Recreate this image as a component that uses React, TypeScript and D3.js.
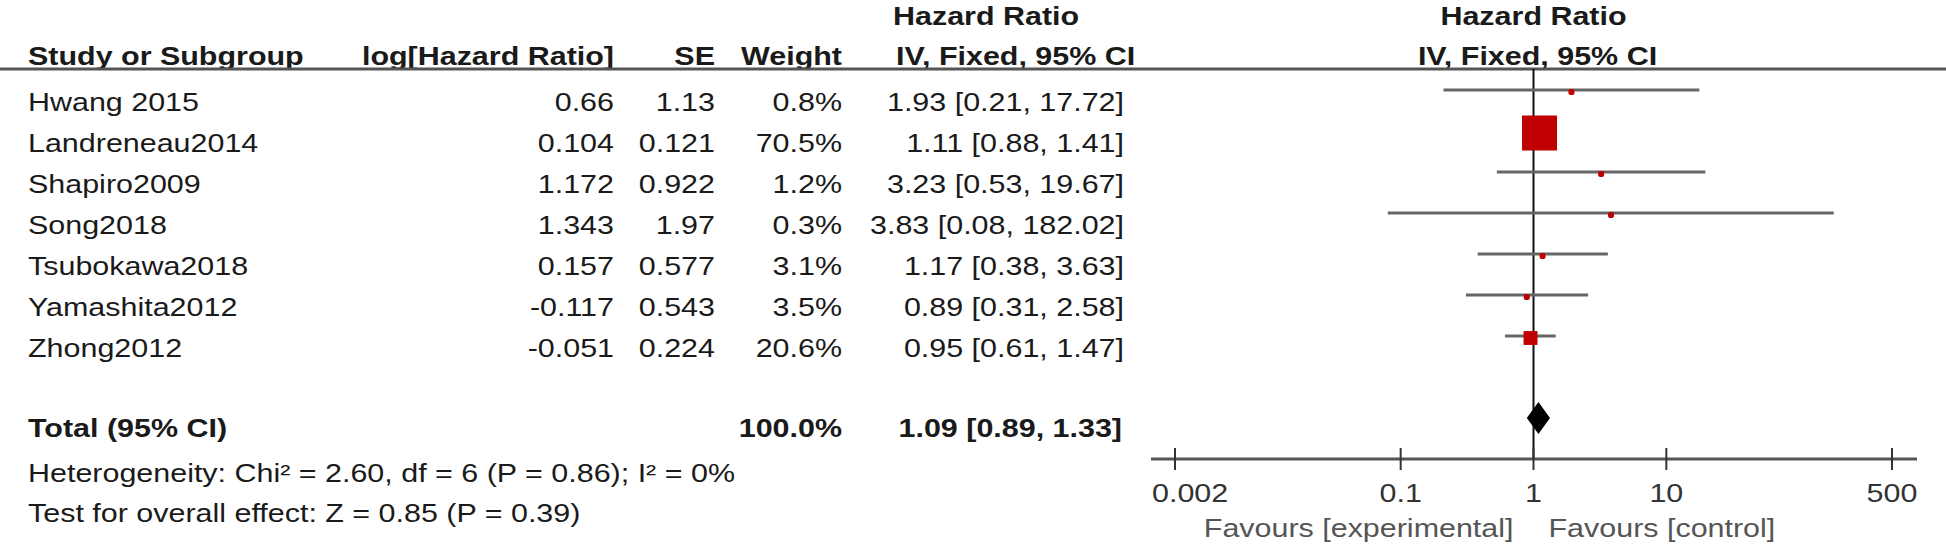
import React from "react";
import * as d3 from "d3";

const studies = ["Hwang 2015", "Landreneau2014", "Shapiro2009", "Song2018", "Tsubokawa2018", "Yamashita2012", "Zhong2012"];
const logHR = [0.66, 0.104, 1.172, 1.343, 0.157, -0.117, -0.051];
const seVals = [1.13, 0.121, 0.922, 1.97, 0.577, 0.543, 0.224];
const weights = [0.8, 70.5, 1.2, 0.3, 3.1, 3.5, 20.6];
const hrVals = [1.93, 1.11, 3.23, 3.83, 1.17, 0.89, 0.95];
const ciLow = [0.21, 0.88, 0.53, 0.08, 0.38, 0.31, 0.61];
const ciHigh = [17.72, 1.41, 19.67, 182.02, 3.63, 2.58, 1.47];
const totalWeight = 100.0;
const totalHR = [1.09, 0.89, 1.33];
const tickValues = [0.002, 0.1, 1, 10, 500];
const heterogeneityText = "Heterogeneity: Chi\u00B2 = 2.60, df = 6 (P = 0.86); I\u00B2 = 0%";
const overallText = "Test for overall effect: Z = 0.85 (P = 0.39)";
const favLeft = "Favours [experimental]";
const favRight = "Favours [control]";

const W = 1946;
const H = 549;
const SX = 1.19;
const FS = 25.6;
const FONT = "'Liberation Sans', Arial, Helvetica, sans-serif";
const TXT = "#1a1a1a";

function T(props: { x: number; y: number; anchor?: string; bold?: boolean; fill?: string; children: React.ReactNode }) {
  const { x, y, anchor = "start", bold = false, fill = TXT, children } = props;
  return (
    <text
      transform={`translate(${x},${y}) scale(${SX},1)`}
      textAnchor={anchor}
      fontWeight={bold ? 700 : 400}
      fill={fill}
      fontSize={FS}
      fontFamily={FONT}
    >
      {children}
    </text>
  );
}

export default function App() {
  const x = d3.scaleLog().domain([0.002, 500]).range([1175, 1892]);
  const yRow = d3.scalePoint<string>().domain(studies).range([111, 357]);
  const size = d3.scalePow().exponent(0.75).domain([0, 70.5]).range([0, 35]);

  const colName = 28;
  const colLog = 614;
  const colSE = 715;
  const colW = 842;
  const colCI = 1124;
  const hdr1 = 25;
  const hdr2 = 65;
  const lineY = 69;
  const totalY = 437;
  const hetY = 482;
  const testY = 522;
  const axisY = 459;
  const markOff = 20;
  const x1 = x(1);
  const [d0, d1] = x.domain();

  const fmt2 = d3.format(".2f");
  const fmt1 = d3.format(".1f");

  return (
    <svg width={W} height={H} style={{ position: "absolute", left: 0, top: 0, background: "#fff" }}>
      <rect x={0} y={0} width={W} height={H} fill="#fff" />
      {/* headers */}
      <T x={893} y={hdr1} bold>Hazard Ratio</T>
      <T x={x1} y={hdr1} bold anchor="middle">Hazard Ratio</T>
      <T x={colName} y={hdr2} bold>Study or Subgroup</T>
      <T x={colLog} y={hdr2} bold anchor="end">log[Hazard Ratio]</T>
      <T x={colSE} y={hdr2} bold anchor="end">SE</T>
      <T x={colW} y={hdr2} bold anchor="end">Weight</T>
      <T x={896} y={hdr2} bold>IV, Fixed, 95% CI</T>
      <T x={x1 + 4} y={hdr2} bold anchor="middle">IV, Fixed, 95% CI</T>
      <line x1={0} x2={W} y1={lineY} y2={lineY} stroke="#555" strokeWidth={3} />

      {/* vertical line of no effect */}
      <line x1={x1} x2={x1} y1={lineY} y2={axisY} stroke="#111" strokeWidth={2} />

      {/* rows */}
      {studies.map((s, i) => {
        const yb = yRow(s)!;
        const ym = yb - markOff;
        const side = Math.max(6, size(weights[i]));
        return (
          <g key={s}>
            <T x={colName} y={yb}>{s}</T>
            <T x={colLog} y={yb} anchor="end">{String(logHR[i])}</T>
            <T x={colSE} y={yb} anchor="end">{String(seVals[i])}</T>
            <T x={colW} y={yb} anchor="end">{fmt1(weights[i]) + "%"}</T>
            <T x={colCI} y={yb} anchor="end">{`${fmt2(hrVals[i])} [${fmt2(ciLow[i])}, ${fmt2(ciHigh[i])}]`}</T>
            <line x1={x(ciLow[i])} x2={x(ciHigh[i])} y1={ym - 1} y2={ym - 1} stroke="#666" strokeWidth={3} />
            <rect
              x={x(hrVals[i]) - side / 2}
              y={ym + 1 - side / 2}
              width={side}
              height={side}
              rx={side < 10 ? 2 : 0}
              fill="#c00000"
            />
          </g>
        );
      })}

      {/* total */}
      <T x={colName} y={totalY} bold>Total (95% CI)</T>
      <T x={colW} y={totalY} bold anchor="end">{fmt1(totalWeight) + "%"}</T>
      <T x={colCI - 2} y={totalY} bold anchor="end">{`${fmt2(totalHR[0])} [${fmt2(totalHR[1])}, ${fmt2(totalHR[2])}]`}</T>
      <polygon
        points={[
          [x(totalHR[1]), totalY - 19],
          [x(totalHR[0]), totalY - 19 - 16],
          [x(totalHR[2]), totalY - 19],
          [x(totalHR[0]), totalY - 19 + 16],
        ]
          .map((p) => p.join(","))
          .join(" ")}
        fill="#000"
      />
      <T x={colName} y={hetY}>{heterogeneityText}</T>
      <T x={colName} y={testY}>{overallText}</T>

      {/* axis */}
      <line x1={x(d0) - 24} x2={x(d1) + 25} y1={axisY} y2={axisY} stroke="#555" strokeWidth={3} />
      {tickValues.map((t, i) => (
        <g key={t}>
          <line x1={x(t)} x2={x(t)} y1={axisY - 11} y2={axisY + 11} stroke="#333" strokeWidth={2} />
          {i === 0 ? (
            <T x={x(t) - 23} y={502} fill="#333">{String(t)}</T>
          ) : (
            <T x={x(t)} y={502} anchor="middle" fill="#333">{String(t)}</T>
          )}
        </g>
      ))}
      <T x={x1 - 20} y={537} anchor="end" fill="#555">{favLeft}</T>
      <T x={x1 + 15} y={537} fill="#555">{favRight}</T>
    </svg>
  );
}
